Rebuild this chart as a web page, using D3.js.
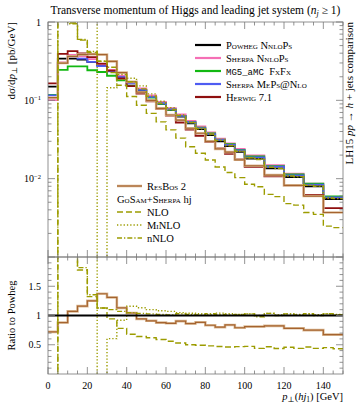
<!DOCTYPE html>
<html><head><meta charset="utf-8">
<script src="https://cdn.jsdelivr.net/npm/d3@7"></script>
<style>
body{margin:0;background:#fff}
svg{display:block}
text{font-family:"Liberation Serif","DejaVu Serif",serif;fill:#000}
</style>
</head><body>
<svg id="c" width="356" height="403"></svg>
<script>
// ---------- data ----------
const edgesMC = [0,5,10,15,20,25,30,35,40,45,50,55,60,65,70,75,80,85,90,95,100,110,120,130,140,150];
const edgesFO = [0,5,10,15,20,25,30,35,40,45,50,55,60,65,70,75,80,85,90,95,100,105,110,115,120,125,130,135,140,145,150];

const powheg  = [0.15,0.34,0.34,0.33,0.31,0.28,0.24,0.20,0.165,0.135,0.11,0.09,0.075,0.062,0.051,0.043,0.036,0.030,0.026,0.022,0.018,0.0135,0.0105,0.0080,0.0055];
const sherpaNNLOPS = [0.1005,0.306,0.381,0.363,0.335,0.286,0.245,0.206,0.172,0.142,0.1155,0.0954,0.0795,0.0663,0.0546,0.0464,0.0389,0.0324,0.0283,0.024,0.0198,0.0149,0.01155,0.00864,0.00583];
const mg5 = [0.117,0.245,0.272,0.271,0.242,0.23,0.206,0.18,0.153,0.13,0.108,0.09,0.0758,0.0632,0.0525,0.0447,0.0378,0.0315,0.0276,0.0233,0.0193,0.0144,0.0113,0.00864,0.00594];
const sherpaMEPS = [0.1155,0.299,0.357,0.34,0.31,0.274,0.235,0.198,0.165,0.136,0.111,0.0918,0.0765,0.0632,0.0525,0.0443,0.0371,0.0312,0.027,0.0229,0.0187,0.0142,0.011,0.0084,0.00578];
const herwig = [0.165,0.391,0.425,0.396,0.357,0.294,0.24,0.19,0.152,0.1215,0.0968,0.0774,0.0638,0.0521,0.0423,0.0353,0.0295,0.0243,0.0208,0.0176,0.0142,0.0107,0.0082,0.0062,0.0042];
const resbos = [0.108,0.299,0.364,0.383,0.388,0.384,0.314,0.226,0.172,0.127,0.100,0.079,0.065,0.056,0.044,0.038,0.030,0.024,0.0218,0.0174,0.0146,0.0111,0.0082,0.0060,0.0037];

const nlo   = [-0.02,4.0,0.97,0.587,0.41,0.316,0.226,0.156,0.112,0.0864,0.0682,0.0531,0.042,0.0329,0.0255,0.0211,0.0173,0.0141,0.012,0.0103,0.0085,0.0079,0.0063,0.0059,0.0048,0.0046,0.0037,0.0035,0.00248,0.00237];
const minlo = [2.5,2.5,2.5,2.5,2.5,-0.05,0.145,0.184,0.191,0.153,0.121,0.0972,0.0803,0.0651,0.0530,0.0443,0.0367,0.0312,0.0268,0.0224,0.0185,0.0180,0.0140,0.0136,0.0108,0.0107,0.0082,0.0081,0.00567,0.00561];
const nnlo  = [-0.02,4.0,0.95,0.60,0.42,0.316,0.264,0.214,0.173,0.140,0.113,0.0918,0.0758,0.0639,0.052,0.0434,0.0371,0.0306,0.0263,0.0224,0.0185,0.0176,0.0140,0.0135,0.0108,0.0106,0.00824,0.0080,0.00567,0.00556];

const xTickLabels = ["0","20","40","60","80","100","120","140"];
const xTickValues = [0,20,40,60,80,100,120,140];
const ratioTickValues = [0.5,1,1.5];
const ratioTickLabels = ["0.5","1","1.5"];

// ---------- layout ----------
const L=48, R=343, T=22, MB=257, RB=374;
const svg = d3.select("#c");
const x = d3.scaleLinear([0,150],[L,R]);
const yM = d3.scaleLog([1e-3,1],[MB,T]);
const yR = d3.scaleLinear([0,2],[RB,MB]);

const defs = svg.append("defs");
defs.append("clipPath").attr("id","cm").append("rect").attr("x",L).attr("y",T).attr("width",R-L).attr("height",MB-T);
defs.append("clipPath").attr("id","cr").append("rect").attr("x",L).attr("y",MB).attr("width",R-L).attr("height",RB-MB);

function stepPts(edges, vals){
  const p=[]; vals.forEach((v,i)=>{p.push([edges[i],v]);p.push([edges[i+1],v]);}); return p;
}
const lineM = d3.line().x(d=>x(d[0])).y(d=> d[1]>0 ? Math.max(T-40,yM(d[1])) : MB+40);
const lineR = d3.line().x(d=>x(d[0])).y(d=> d[1]>0 ? Math.max(MB-40,Math.min(RB+40,yR(d[1]))) : RB+40);

const OLIVE="#9c9c00", BROWN="#a5632f", TAN="#dcbc98";
const mcSeries = [
  {v:powheg, c:"#000"},
  {v:sherpaNNLOPS, c:"#f56fb5"},
  {v:mg5, c:"#12b812"},
  {v:sherpaMEPS, c:"#4f5cf2"},
  {v:herwig, c:"#8f0f0f"},
];
const foSeries = [
  {v:nlo, dash:"6,3"},
  {v:minlo, dash:"1.3,2"},
  {v:nnlo, dash:"5,2,1.3,2"},
];

const gm = svg.append("g").attr("clip-path","url(#cm)");
mcSeries.forEach(s=>{
  gm.append("path").attr("d",lineM(stepPts(edgesMC,s.v))).attr("fill","none").attr("stroke",s.c).attr("stroke-width",1.8);
});
gm.append("path").attr("d",lineM(stepPts(edgesMC,resbos))).attr("fill","none").attr("stroke",TAN).attr("stroke-width",2.6);
gm.append("path").attr("d",lineM(stepPts(edgesMC,resbos))).attr("fill","none").attr("stroke",BROWN).attr("stroke-width",1.2);
foSeries.forEach(s=>{
  gm.append("path").attr("d",lineM(stepPts(edgesFO,s.v))).attr("fill","none").attr("stroke",OLIVE).attr("stroke-width",1.4).attr("stroke-dasharray",s.dash);
});

// ratio panel
function powhegAt(c){ for(let i=0;i<powheg.length;i++){ if(c>=edgesMC[i]&&c<edgesMC[i+1]) return powheg[i]; } return powheg[powheg.length-1]; }
const gr = svg.append("g").attr("clip-path","url(#cr)");
const rbR = stepPts(edgesMC,resbos.map((v,i)=>v/powheg[i]));
gr.append("path").attr("d",lineR(rbR)).attr("fill","none").attr("stroke",TAN).attr("stroke-width",2.6);
gr.append("path").attr("d",lineR(rbR)).attr("fill","none").attr("stroke",BROWN).attr("stroke-width",1.2);
foSeries.forEach(s=>{
  const r = s.v.map((v,i)=> v/powhegAt((edgesFO[i]+edgesFO[i+1])/2));
  gr.append("path").attr("d",lineR(stepPts(edgesFO,r))).attr("fill","none").attr("stroke",OLIVE).attr("stroke-width",1.4).attr("stroke-dasharray",s.dash);
});
gr.append("path").attr("d",lineR(stepPts(edgesMC,powheg.map((v,i)=>v/powheg[i])))).attr("fill","none").attr("stroke","#000").attr("stroke-width",1.8);

// ---------- frames & ticks ----------
const FR="#777";
svg.append("rect").attr("x",L).attr("y",T).attr("width",R-L).attr("height",MB-T).attr("fill","none").attr("stroke",FR).attr("stroke-width",0.8);
svg.append("rect").attr("x",L).attr("y",MB).attr("width",R-L).attr("height",RB-MB).attr("fill","none").attr("stroke",FR).attr("stroke-width",0.8);

const xMinor = d3.range(0,151,5).filter(v=>v%20!==0);
function xTicks(yBase,dir){
  const g=svg.append("g");
  xTickValues.forEach(v=>g.append("line").attr("x1",x(v)).attr("x2",x(v)).attr("y1",yBase).attr("y2",yBase+dir*7).attr("stroke",FR).attr("stroke-width",0.8));
  xMinor.forEach(v=>g.append("line").attr("x1",x(v)).attr("x2",x(v)).attr("y1",yBase).attr("y2",yBase+dir*3.5).attr("stroke",FR).attr("stroke-width",0.8));
}
xTicks(T,1); xTicks(MB,-1); xTicks(MB,1); xTicks(RB,-1);

function yTicks(scale,major,minor){
  const g=svg.append("g");
  [[L,1],[R,-1]].forEach(([xb,d])=>{
    major.forEach(v=>g.append("line").attr("x1",xb).attr("x2",xb+d*7).attr("y1",scale(v)).attr("y2",scale(v)).attr("stroke",FR).attr("stroke-width",0.8));
    minor.forEach(v=>g.append("line").attr("x1",xb).attr("x2",xb+d*3.5).attr("y1",scale(v)).attr("y2",scale(v)).attr("stroke",FR).attr("stroke-width",0.8));
  });
}
const logMinor=[]; [1e-3,1e-2,1e-1].forEach(b=>{for(let k=2;k<10;k++) logMinor.push(b*k);});
yTicks(yM,[1e-3,1e-2,1e-1,1],logMinor);
yTicks(yR,[0.5,1,1.5],d3.range(1,20).map(k=>k/10).filter(v=>Math.abs(v*2-Math.round(v*2))>1e-6));

// tick labels
const FS=10;
xTickValues.forEach((v,i)=>svg.append("text").attr("x",x(v)).attr("y",389).attr("text-anchor","middle").attr("font-size",FS).text(xTickLabels[i]));
ratioTickValues.forEach((v,i)=>svg.append("text").attr("x",41).attr("y",yR(v)+3.3).attr("text-anchor","end").attr("font-size",FS).text(ratioTickLabels[i]));
svg.append("text").attr("x",41).attr("y",yM(1)+3.5).attr("text-anchor","end").attr("font-size",FS).text("1");
[[1e-1,"−1"],[1e-2,"−2"]].forEach(([v,e])=>{
  const t=svg.append("text").attr("x",41).attr("y",yM(v)+3.5).attr("text-anchor","end").attr("font-size",FS);
  t.append("tspan").text("10");
  t.append("tspan").attr("dy",-3.5).attr("font-size",6.5).text(e);
});

// title
const tt=svg.append("text").attr("x",(L+R)/2).attr("y",14).attr("text-anchor","middle").attr("font-size",11.5);
tt.append("tspan").text("Transverse momentum of Higgs and leading jet system (");
tt.append("tspan").attr("font-style","italic").text("n");
tt.append("tspan").attr("font-style","italic").attr("font-size",8).attr("dy",2).text("j");
tt.append("tspan").attr("dy",-2).text(" ≥ 1)");

// y label main
const yl=svg.append("text").attr("transform",`translate(15,${T}) rotate(-90)`).attr("text-anchor","end").attr("font-size",11);
yl.append("tspan").text("dσ/d");
yl.append("tspan").attr("font-style","italic").text("p");
yl.append("tspan").attr("font-size",7.5).attr("dy",2).text("⊥");
yl.append("tspan").attr("dy",-2).text(" [pb/GeV]");
// ratio label
svg.append("text").attr("transform",`translate(15,${yR(1)}) rotate(-90)`).attr("text-anchor","middle").attr("font-size",10.5).text("Ratio to Powheg");
// x label
const xl=svg.append("text").attr("x",R).attr("y",400).attr("text-anchor","end").attr("font-size",10.5);
xl.append("tspan").attr("font-style","italic").text("p");
xl.append("tspan").attr("font-size",7.5).attr("dy",2).text("⊥");
xl.append("tspan").attr("dy",-2).text("(");
xl.append("tspan").attr("font-style","italic").text("hj");
xl.append("tspan").attr("font-size",7.5).attr("dy",2).text("1");
xl.append("tspan").attr("dy",-2).text(") [GeV]");
// right label
const rl=svg.append("text").attr("transform",`translate(353,${T}) rotate(-90)`).attr("text-anchor","end").attr("font-size",11);
rl.append("tspan").text("LH15 ");
rl.append("tspan").attr("font-style","italic").text("pp");
rl.append("tspan").text(" → ");
rl.append("tspan").attr("font-style","italic").text("h");
rl.append("tspan").text(" + jets comparison");

// ---------- legends ----------
const legTop = [
  {c:"#000", parts:[["sc","Powheg NnloPs"]]},
  {c:"#f56fb5", parts:[["sc","Sherpa NnloPs"]]},
  {c:"#12b812", parts:[["mono","MG5_aMC "],["sc","FxFx"]]},
  {c:"#4f5cf2", parts:[["sc","Sherpa MePs@Nlo"]]},
  {c:"#8f0f0f", parts:[["sc","Herwig "],["n","7.1"]]},
];
function addParts(t,parts){
  parts.forEach(([k,s])=>{
    const sp=t.append("tspan").text(s);
    if(k==="sc") sp.attr("font-variant","small-caps");
    if(k==="mono") sp.attr("font-family","'Liberation Mono','DejaVu Sans Mono',monospace").attr("font-size",9);
  });
}
legTop.forEach((e,i)=>{
  const yy=45+i*13;
  svg.append("line").attr("x1",195).attr("x2",221).attr("y1",yy).attr("y2",yy).attr("stroke",e.c).attr("stroke-width",2.2);
  const t=svg.append("text").attr("x",226).attr("y",yy+3.6).attr("font-size",10.5);
  addParts(t,e.parts);
});
// bottom legend
const yb0=186;
svg.append("line").attr("x1",117).attr("x2",142).attr("y1",yb0).attr("y2",yb0).attr("stroke",TAN).attr("stroke-width",2.6);
svg.append("line").attr("x1",117).attr("x2",142).attr("y1",yb0).attr("y2",yb0).attr("stroke",BROWN).attr("stroke-width",1.2);
addParts(svg.append("text").attr("x",147).attr("y",yb0+3.6).attr("font-size",10.5),[["sc","ResBos "],["n","2"]]);
addParts(svg.append("text").attr("x",117).attr("y",yb0+13+3.6).attr("font-size",10.5),[["sc","GoSam+Sherpa"],["n"," hj"]]);
const foLeg=[["NLO","n"],["MiNLO","sc"],["nNLO","n"]];
foSeries.forEach((s,i)=>{
  const yy=yb0+26+i*13;
  svg.append("line").attr("x1",117).attr("x2",142).attr("y1",yy).attr("y2",yy).attr("stroke",OLIVE).attr("stroke-width",1.4).attr("stroke-dasharray",s.dash);
  addParts(svg.append("text").attr("x",147).attr("y",yy+3.6).attr("font-size",10.5),[[foLeg[i][1],foLeg[i][0]]]);
});
</script>
</body></html>
